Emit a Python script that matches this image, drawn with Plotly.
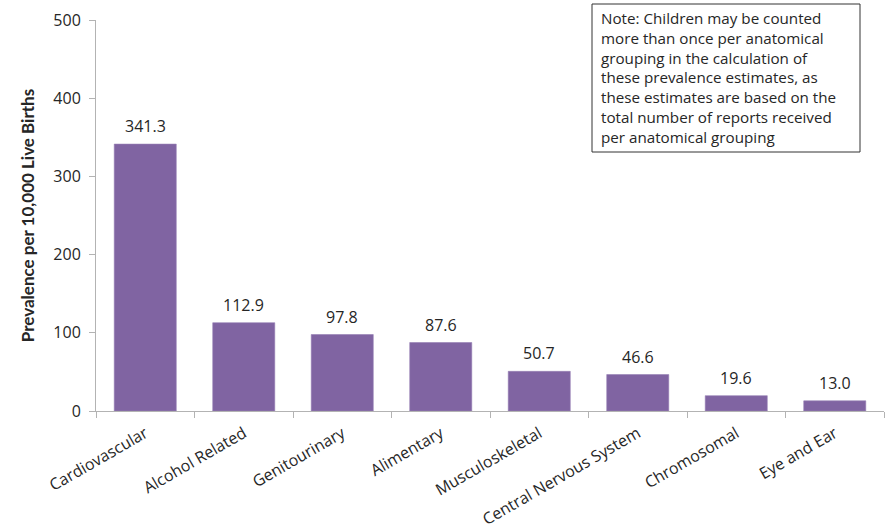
import plotly.graph_objects as go

categories = ["Cardiovascular", "Alcohol Related", "Genitourinary", "Alimentary",
              "Musculoskeletal", "Central Nervous System", "Chromosomal", "Eye and Ear"]
values = [341.3, 112.9, 97.8, 87.6, 50.7, 46.6, 19.6, 13.0]
value_labels = ["341.3", "112.9", "97.8", "87.6", "50.7", "46.6", "19.6", "13.0"]
y_ticks = [0, 100, 200, 300, 400, 500]
y_title = "Prevalence per 10,000 Live Births"
note_lines = ["Note: Children may be counted",
              "more than once per anatomical",
              "grouping in the calculation of",
              "these prevalence estimates, as",
              "these estimates are based on the",
              "total number of reports received",
              "per anatomical grouping"]

FONT = "'Open Sans', sans-serif"
TXT = "#262626"

fig = go.Figure(go.Bar(
    x=categories, y=values,
    marker=dict(color="#8064A2", line=dict(color="#9580b3", width=0.6)),
    width=0.63,
    hoverinfo="x+y",
))

for c, v, lab in zip(categories, values, value_labels):
    fig.add_annotation(x=c, y=v, text=lab, showarrow=False,
                       xanchor="center", yanchor="bottom", yshift=5,
                       font=dict(size=16, color=TXT, family=FONT))

fig.update_layout(
    width=888, height=529,
    margin=dict(l=96, r=4, t=20, b=118),
    plot_bgcolor="white", paper_bgcolor="white",
    showlegend=False,
    font=dict(family=FONT, color=TXT),
    xaxis=dict(
        tickangle=-30, tickfont=dict(size=16, color=TXT, family=FONT),
        showline=True, linecolor="#b3b3b3", linewidth=1,
        ticks="outside", tickson="boundaries", ticklen=6, tickcolor="#b3b3b3",
        ticklabelstandoff=6,
        showgrid=False, automargin=False,
    ),
    yaxis=dict(
        range=[0, 500], tickvals=y_ticks,
        tickfont=dict(size=16, color=TXT, family=FONT),
        showline=True, linecolor="#b3b3b3", linewidth=1,
        ticks="outside", ticklen=6, tickcolor="#b3b3b3",
        ticklabelstandoff=5,
        showgrid=False, zeroline=False, automargin=False,
        title=dict(text="<b>" + y_title + "</b>",
                   font=dict(size=17, color=TXT, family="Lato, sans-serif"), standoff=14),
    ),
)

# Note box frame (paper coordinates relative to the plot area)
fig.add_shape(
    type="rect", xref="paper", yref="paper",
    x0=(592 - 96) / 788, x1=(860 - 96) / 788,
    y0=(411 - 152) / 391, y1=(411 - 4) / 391,
    line=dict(color="#333333", width=1), fillcolor="white", layer="above",
)
fig.add_annotation(
    xref="paper", yref="paper", x=(599 - 96) / 788, y=(411 - 6) / 391,
    xanchor="left", yanchor="top", align="left",
    text="<br>".join(note_lines), showarrow=False,
    font=dict(size=15.2, color=TXT, family=FONT),
)

fig.write_html("out.html", config={"displayModeBar": False},
               post_script="document.body.style.margin='0';")
